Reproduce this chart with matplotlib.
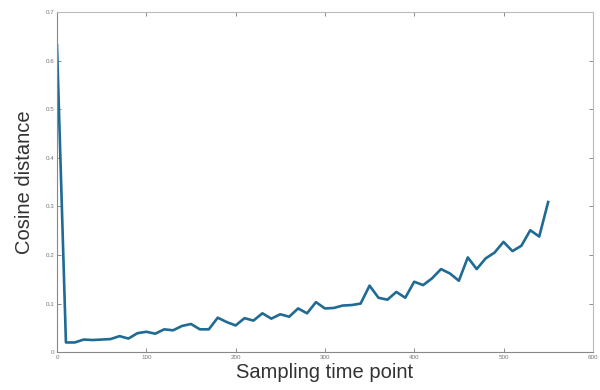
import matplotlib
matplotlib.use("Agg")
import matplotlib.pyplot as plt
import numpy as np

plt.rcParams["font.family"] = ["Liberation Sans", "DejaVu Sans"]

t = list(range(0, 560, 10))
dist = [0.632, 0.020, 0.020, 0.026, 0.025, 0.026, 0.027, 0.033, 0.028, 0.039,
        0.042, 0.038, 0.047, 0.045, 0.054, 0.058, 0.047, 0.047, 0.071, 0.062,
        0.055, 0.070, 0.065, 0.080, 0.069, 0.078, 0.073, 0.090, 0.080, 0.103,
        0.090, 0.091, 0.096, 0.097, 0.100, 0.137, 0.112, 0.108, 0.124, 0.112,
        0.145, 0.138, 0.152, 0.171, 0.162, 0.147, 0.195, 0.171, 0.193, 0.205,
        0.227, 0.208, 0.219, 0.251, 0.238, 0.309]
xticks = [0, 100, 200, 300, 400, 500, 600]
yticks = [0, 0.1, 0.2, 0.3, 0.4, 0.5, 0.6, 0.7]

fig = plt.figure(figsize=(6, 3.9), dpi=100)
ax = fig.add_axes([0.095, 0.097, 0.893, 0.872])
ax.plot(t, dist, color="#1f6b93", lw=1.9)
ax.set_xlim(0, 600)
ax.set_ylim(0, 0.7)
ax.set_xticks(xticks)
ax.set_yticks(yticks)
ax.set_xticklabels([str(v) for v in xticks])
ax.set_yticklabels(["0" if v == 0 else f"{v:.1f}" for v in yticks])
ax.tick_params(direction="in", length=3, width=0.6, labelsize=4.5,
               colors="#777777", top=True, right=True, pad=2)
for s in ax.spines.values():
    s.set_color("#bbbbbb")
    s.set_linewidth(0.8)
ax.spines["left"].set_color("#888888")
ax.spines["bottom"].set_color("#888888")
ax.set_xlabel("Sampling time point", fontsize=14.5, color="#333333", labelpad=2)
ax.set_ylabel("Cosine distance", fontsize=14.5, color="#333333", labelpad=8)
fig.savefig("out.png", dpi=100)
